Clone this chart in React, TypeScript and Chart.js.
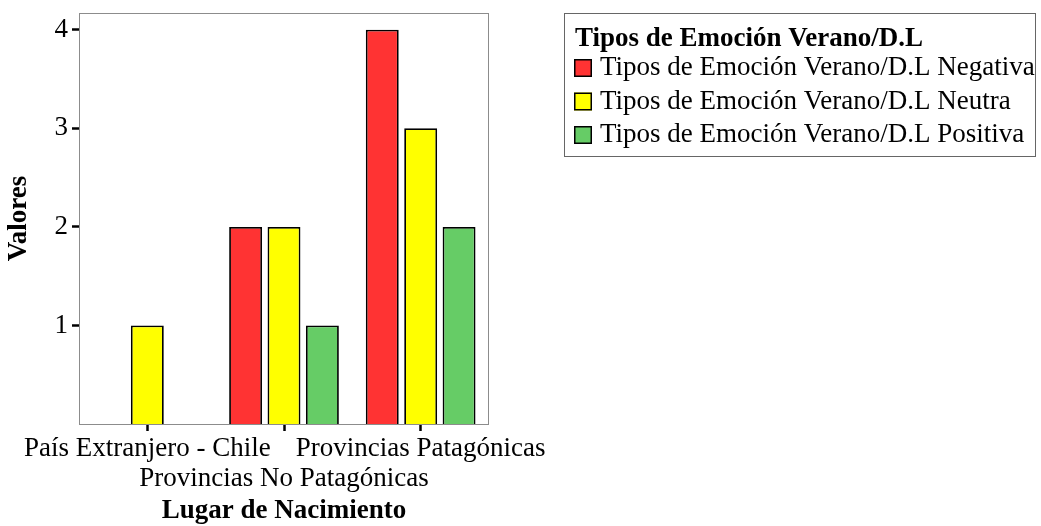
import React, { useEffect, useRef } from 'react';
import { Chart, registerables } from 'chart.js';

Chart.register(...registerables);

const categories: string[][] = [
  ['País Extranjero - Chile'],
  ['', 'Provincias No Patagónicas'],
  ['Provincias Patagónicas'],
];
const seriesNames = [
  'Tipos de Emoción Verano/D.L Negativa',
  'Tipos de Emoción Verano/D.L Neutra',
  'Tipos de Emoción Verano/D.L Positiva',
];
const negativa = [null, 2, 4];
const neutra = [1, 2, 3];
const positiva = [null, 1, 2];
const yTickValues = [1, 2, 3, 4];
const legendTitle = 'Tipos de Emoción Verano/D.L';
const xTitle = 'Lugar de Nacimiento';
const yTitle = 'Valores';
const seriesColors = ['#ff3333', '#ffff00', '#66cc66'];

const FONT = '"Liberation Serif", "Times New Roman", serif';

const framePlugin = {
  id: 'frame',
  beforeDatasetsDraw(chart: any) {
    const { ctx, chartArea } = chart;
    ctx.save();
    ctx.strokeStyle = '#8c8c8c';
    ctx.lineWidth = 1;
    ctx.strokeRect(chartArea.left + 0.5, chartArea.top + 0.5, chartArea.right - chartArea.left - 1, chartArea.bottom - chartArea.top);
    ctx.restore();
  },
};

const boxLegendPlugin = {
  id: 'boxLegend',
  afterDraw(chart: any) {
    const { ctx } = chart;
    const x0 = 564.5, y0 = 13.5, w = 471, h = 143;
    ctx.save();
    ctx.strokeStyle = '#666666';
    ctx.lineWidth = 1;
    ctx.strokeRect(x0, y0, w, h);
    ctx.fillStyle = '#000';
    ctx.textBaseline = 'middle';
    ctx.textAlign = 'left';
    ctx.font = `bold 27px ${FONT}`;
    ctx.fillText(legendTitle, 575, 39);
    ctx.font = `27px ${FONT}`;
    const rows = [68, 101.5, 135];
    chart.data.datasets.forEach((ds: any, i: number) => {
      const cy = rows[i];
      ctx.fillStyle = ds.backgroundColor;
      ctx.fillRect(574, cy - 9, 18, 18);
      ctx.strokeStyle = '#000';
      ctx.lineWidth = 1.5;
      ctx.strokeRect(574.75, cy - 8.25, 16.5, 16.5);
      ctx.fillStyle = '#000';
      ctx.fillText(ds.label, 600, cy);
    });
    ctx.restore();
  },
};

export default function App() {
  const ref = useRef<HTMLCanvasElement | null>(null);
  useEffect(() => {
    if (!ref.current) return;
    const mk = (i: number, data: (number | null)[]) => ({
      label: seriesNames[i],
      data,
      backgroundColor: seriesColors[i],
      borderColor: '#000000',
      borderWidth: 1.8,
      categoryPercentage: 0.843,
      barPercentage: 0.857,
    });
    const chart = new Chart(ref.current, {
      type: 'bar',
      data: {
        labels: categories as any,
        datasets: [mk(0, negativa), mk(1, neutra), mk(2, positiva)],
      },
      options: {
        animation: false,
        responsive: false,
        maintainAspectRatio: false,
        layout: { padding: { left: 0, top: 13, right: 552, bottom: 0 } },
        plugins: { legend: { display: false }, tooltip: { enabled: false } },
        scales: {
          x: {
            offset: true,
            grid: {
              display: true,
              offset: false,
              drawOnChartArea: false,
              drawTicks: true,
              tickLength: 7,
              tickWidth: 2.5,
              tickColor: '#000',
            },
            border: { display: false },
            ticks: {
              autoSkip: false,
              maxRotation: 0,
              minRotation: 0,
              padding: 3,
              color: '#000',
              font: { family: FONT, size: 27, lineHeight: 1.1 },
            },
            title: {
              display: true,
              text: xTitle,
              color: '#000',
              font: { family: FONT, size: 27, weight: 'bold', lineHeight: 1.1 },
              padding: { top: 0, bottom: 0 },
            },
            afterFit(scale: any) {
              scale.height = 102;
              scale.paddingLeft = 0;
              scale.paddingRight = 0;
            },
          },
          y: {
            min: 0,
            max: 4.17,
            grid: {
              display: true,
              drawOnChartArea: false,
              drawTicks: true,
              tickLength: 7,
              tickWidth: 2.5,
              tickColor: '#000',
            },
            border: { display: false },
            afterBuildTicks(scale: any) {
              scale.ticks = yTickValues.map((v) => ({ value: v }));
            },
            ticks: {
              padding: 4,
              color: '#000',
              font: { family: FONT, size: 27 },
            },
            title: {
              display: true,
              text: yTitle,
              color: '#000',
              font: { family: FONT, size: 27, weight: 'bold', lineHeight: 1.1 },
              padding: { top: 4, bottom: 0 },
            },
            afterFit(scale: any) {
              scale.width = 79;
              scale.paddingTop = 0;
              scale.paddingBottom = 0;
            },
          },
        },
      },
      plugins: [framePlugin, boxLegendPlugin],
    });
    return () => chart.destroy();
  }, []);
  return (
    <div style={{ position: 'fixed', left: 0, top: 0, width: 1041, height: 526, background: '#fff' }}>
      <canvas ref={ref} width={1041} height={526} style={{ width: 1041, height: 526, display: 'block' }} />
    </div>
  );
}
